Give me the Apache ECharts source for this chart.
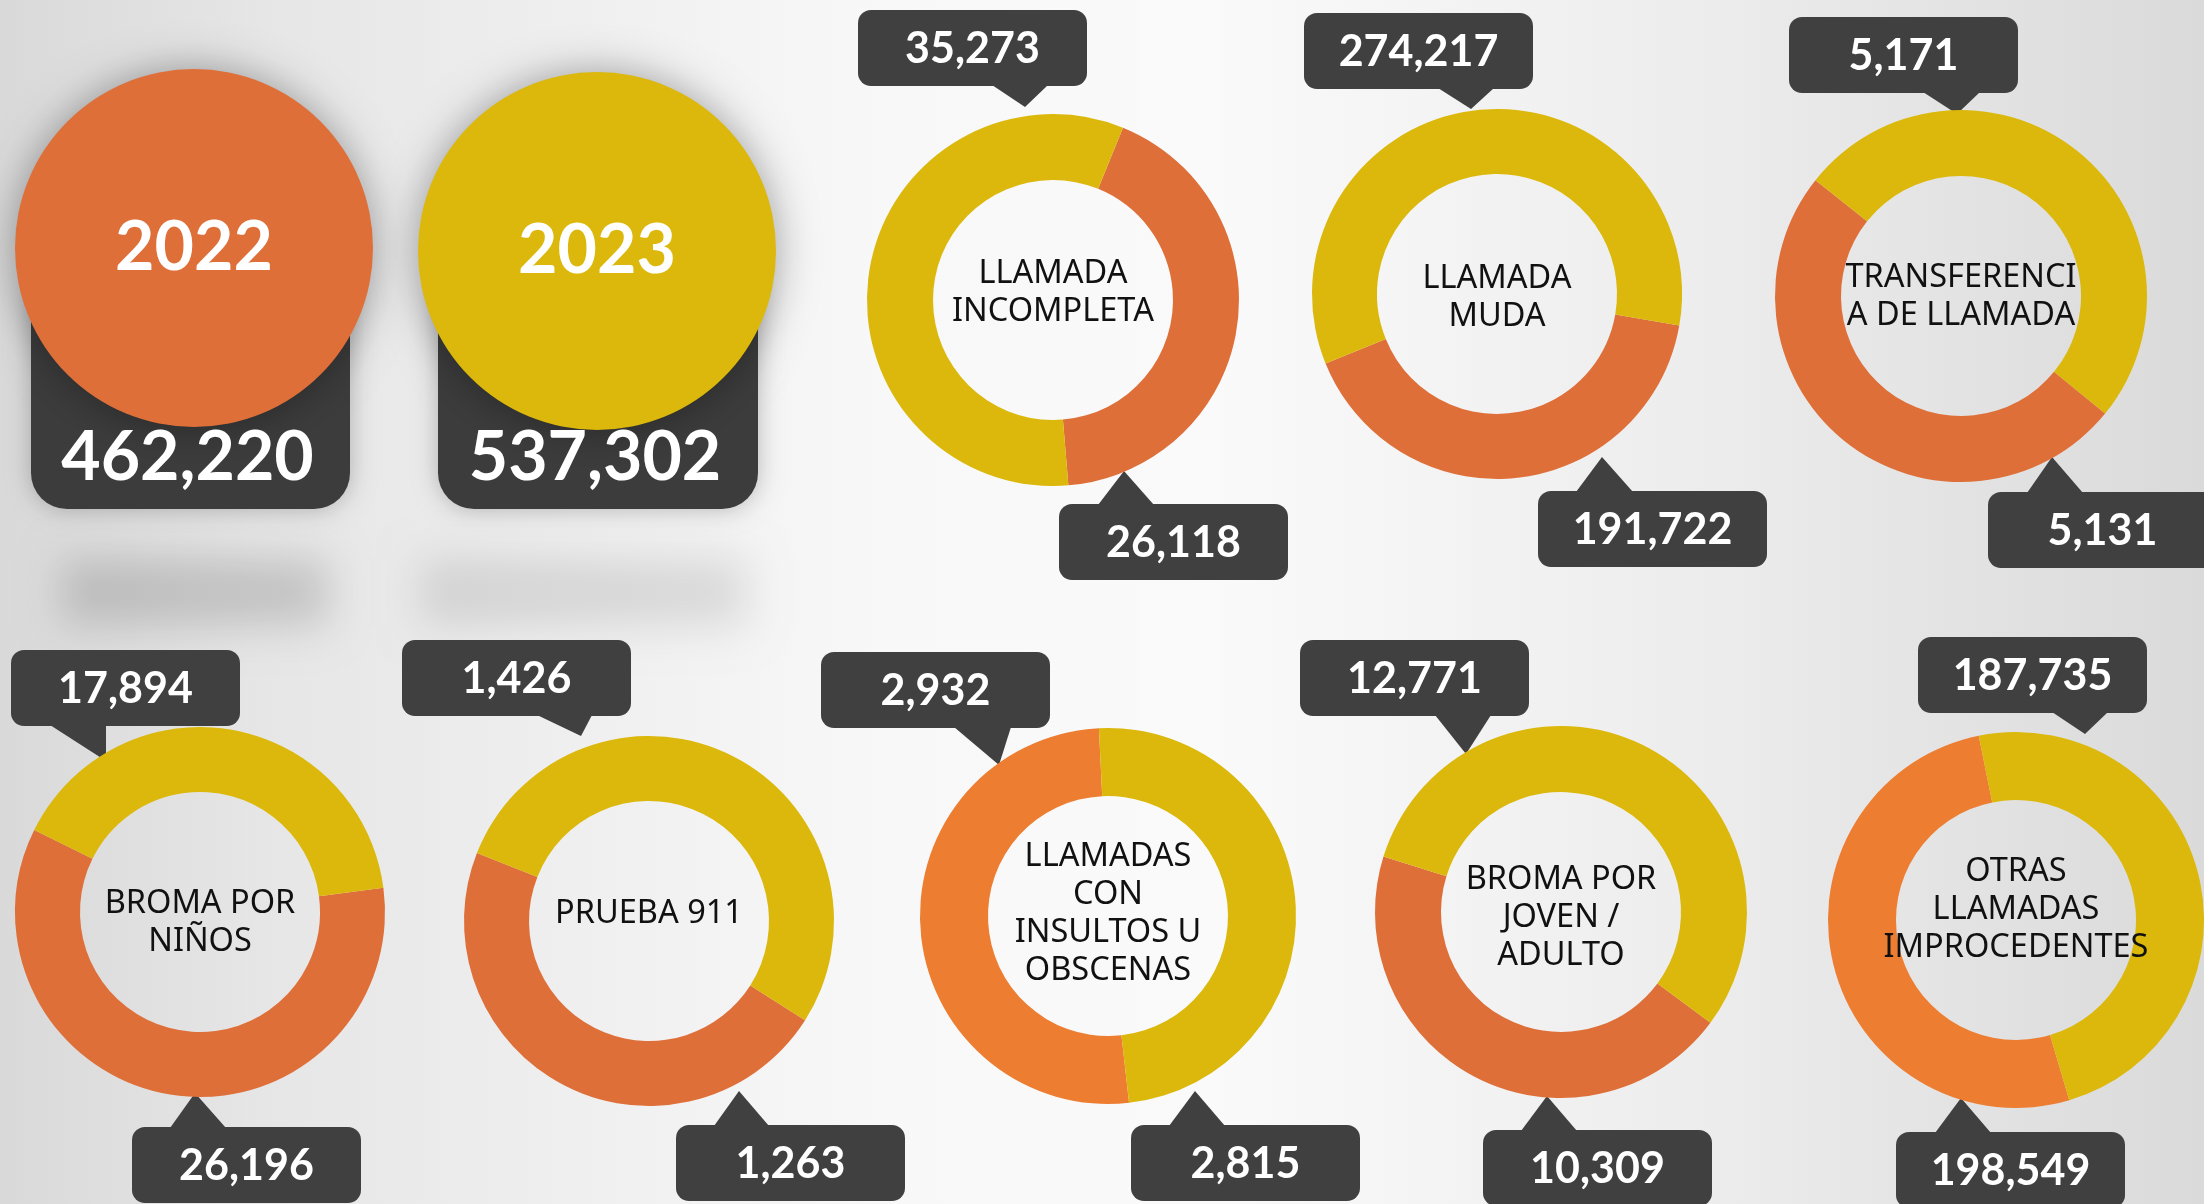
<!DOCTYPE html>
<html>
<head>
<meta charset="utf-8">
<title>Llamadas improcedentes 2022 - 2023</title>
<script src="https://cdn.jsdelivr.net/npm/echarts@6/dist/echarts.min.js"></script>
<style>
  html, body { margin: 0; padding: 0; }
  #chart { width: 2204px; height: 1204px; }
</style>
</head>
<body>
<div id="chart"></div>
<script>
// datos
const years = ['2022', '2023']
const totals = [462220, 537302]
const categories = [
  'LLAMADA\nINCOMPLETA',
  'LLAMADA\nMUDA',
  'TRANSFERENCI\nA DE LLAMADA',
  'BROMA POR\nNIÑOS',
  'PRUEBA 911',
  'LLAMADAS\nCON\nINSULTOS U\nOBSCENAS',
  'BROMA POR\nJOVEN /\nADULTO',
  'OTRAS\nLLAMADAS\nIMPROCEDENTES'
]
const values2022 = [26118, 191722, 5131, 26196, 1263, 2932, 10309, 198549]
const values2023 = [35273, 274217, 5171, 17894, 1426, 2815, 12771, 187735]

// colores
const ORANGE = '#DF6F39'
const ORANGE_LIGHT = '#ED7D31'
const YELLOW = '#DBB80B'
const DARK = '#404040'
const NUM_FONT = 'Lato, "Open Sans", sans-serif'
const TXT_FONT = '"Noto Sans", "DejaVu Sans", sans-serif'

// posiciones de cada dona y de sus cajas
const BOX_W = 229
const BOX_H = 76
const donuts = [
  { center: [1053, 300], radius: 186, startAngle: 67.9, textDy: -7, orange: ORANGE, topYear: 1,
    topBox: { x: 858, y: 10, base: [992, 1048], tip: [1025, 107] },
    bottomBox: { x: 1059, y: 504, base: [1098, 1154], tip: [1124, 471] } },
  { center: [1497, 294], radius: 185, startAngle: -9.8, textDy: 4, orange: ORANGE, topYear: 1,
    topBox: { x: 1304, y: 13, base: [1438, 1494], tip: [1471, 109] },
    bottomBox: { x: 1538, y: 491, base: [1576, 1633], tip: [1602, 457] } },
  { center: [1961, 296], radius: 186, startAngle: -39.2, textDy: 1, orange: ORANGE, topYear: 1,
    topBox: { x: 1789, y: 17, base: [1923, 1980], tip: [1957, 114] },
    bottomBox: { x: 1988, y: 492, base: [2027, 2083], tip: [2052, 457] } },
  { center: [200, 912], radius: 185, startAngle: 7.55, textDy: 11, orange: ORANGE, topYear: 1,
    topBox: { x: 11, y: 650, base: [50, 106], tip: [106, 761] },
    bottomBox: { x: 132, y: 1127, base: [170, 226], tip: [195, 1093] } },
  { center: [649, 921], radius: 185, startAngle: -32.46, textDy: -7, orange: ORANGE, topYear: 1,
    topBox: { x: 402, y: 640, base: [537, 592], tip: [581, 736] },
    bottomBox: { x: 676, y: 1125, base: [714, 769], tip: [739, 1091] } },
  { center: [1108, 916], radius: 188, startAngle: -83.57, textDy: -2, orange: ORANGE_LIGHT, topYear: 0,
    topBox: { x: 821, y: 652, base: [954, 1011], tip: [999, 765] },
    bottomBox: { x: 1131, y: 1125, base: [1169, 1225], tip: [1195, 1091] } },
  { center: [1561, 912], radius: 186, startAngle: -36.55, textDy: 6, orange: ORANGE, topYear: 1,
    topBox: { x: 1300, y: 640, base: [1435, 1491], tip: [1466, 754] },
    bottomBox: { x: 1483, y: 1130, base: [1521, 1577], tip: [1547, 1096] } },
  { center: [2016, 920], radius: 188, startAngle: -73.53, textDy: -10, orange: ORANGE_LIGHT, topYear: 1,
    topBox: { x: 1918, y: 637, base: [2052, 2108], tip: [2085, 734] },
    bottomBox: { x: 1896, y: 1132, base: [1935, 1991], tip: [1961, 1098] } }
]

// circulos grandes de totales
const bigCircles = [
  { center: [194, 248], radius: 179, color: ORANGE, box: { x: 31, y: 290, w: 319, h: 219 } },
  { center: [597, 251], radius: 179, color: YELLOW, box: { x: 438, y: 290, w: 320, h: 219 } }
]

function fmt(v) {
  return v.toLocaleString('en-US')
}

// caja oscura con piquito
function valueBox(b, text, pointsDown) {
  const edgeY = pointsDown ? b.y + BOX_H - 1 : b.y + 1
  return {
    type: 'group',
    z: 50,
    children: [
      {
        type: 'rect',
        shape: { x: b.x, y: b.y, width: BOX_W, height: BOX_H, r: 13 },
        style: { fill: DARK }
      },
      {
        type: 'polygon',
        shape: { points: [[b.base[0], edgeY], [b.base[1], edgeY], b.tip] },
        style: { fill: DARK }
      },
      {
        type: 'text',
        style: {
          text: text,
          x: b.x + BOX_W / 2,
          y: b.y + BOX_H / 2 + 1,
          align: 'center',
          verticalAlign: 'middle',
          fill: '#fff',
          fontSize: 43,
          fontWeight: 'bold',
          fontFamily: NUM_FONT
        }
      }
    ]
  }
}

// sombra difusa (solo se ve la sombra del rect)
function blurBlob(x, y, w, h, blur, color) {
  return {
    type: 'rect',
    z: -50,
    shape: { x: x, y: y - 3000, width: w, height: h },
    style: { fill: '#000', shadowBlur: blur, shadowColor: color, shadowOffsetY: 3000 }
  }
}

const series = []
const graphics = []

graphics.push({
  type: 'rect',
  z: -100,
  shape: { x: 0, y: 0, width: 2204, height: 1204 },
  style: {
    fill: new echarts.graphic.LinearGradient(0, 0, 1, 0, [
      { offset: 0, color: '#d9d9d9' },
      { offset: 0.12, color: '#e6e6e6' },
      { offset: 0.4, color: '#f8f8f8' },
      { offset: 0.55, color: '#fafafa' },
      { offset: 0.78, color: '#ececec' },
      { offset: 1, color: '#dadada' }
    ])
  }
})
graphics.push(blurBlob(62, 558, 266, 68, 40, 'rgba(0,0,0,0.15)'))
graphics.push(blurBlob(420, 558, 326, 68, 40, 'rgba(0,0,0,0.10)'))

bigCircles.forEach(function(c, i) {
  graphics.push({
    type: 'rect',
    z: 1,
    shape: { x: c.box.x, y: c.box.y, width: c.box.w, height: c.box.h, r: [0, 0, 36, 36] },
    style: { fill: '#3c3c3c', shadowBlur: 25, shadowColor: 'rgba(0,0,0,0.25)' }
  })
  graphics.push({
    type: 'text',
    z: 60,
    style: {
      text: fmt(totals[i]),
      x: c.box.x + c.box.w / 2 - 3,
      y: 458,
      align: 'center',
      verticalAlign: 'middle',
      fill: '#fff',
      fontSize: 68,
      fontWeight: 'bold',
      fontFamily: NUM_FONT
    }
  })
  series.push({
    type: 'pie',
    silent: true,
    animation: false,
    center: c.center,
    radius: [0, c.radius],
    z: 5,
    label: {
      show: true,
      position: 'center',
      formatter: '{b}',
      color: '#fff',
      fontSize: 68,
      fontWeight: 'bold',
      fontFamily: NUM_FONT
    },
    labelLine: { show: false },
    itemStyle: { color: c.color, borderWidth: 0, shadowBlur: 40, shadowColor: 'rgba(0,0,0,0.35)' },
    data: [{ name: years[i], value: totals[i] }]
  })
})

donuts.forEach(function(d, i) {
  const vals = [values2022[i], values2023[i]]
  series.push({
    type: 'pie',
    silent: true,
    animation: false,
    center: d.center,
    radius: [120, d.radius],
    startAngle: d.startAngle,
    clockwise: true,
    label: { show: false },
    labelLine: { show: false },
    itemStyle: { borderWidth: 0 },
    data: [
      { name: years[0], value: vals[0], itemStyle: { color: d.orange } },
      { name: years[1], value: vals[1], itemStyle: { color: YELLOW } }
    ]
  })
  graphics.push({
    type: 'text',
    z: 60,
    style: {
      text: categories[i],
      x: d.center[0],
      y: d.center[1] + d.textDy,
      align: 'center',
      verticalAlign: 'middle',
      fill: '#111',
      fontSize: 32.5,
      lineHeight: 38,
      fontFamily: TXT_FONT
    }
  })
  graphics.push(valueBox(d.topBox, fmt(vals[d.topYear]), true))
  graphics.push(valueBox(d.bottomBox, fmt(vals[1 - d.topYear]), false))
})

const chart = echarts.init(document.getElementById('chart'))
chart.setOption({
  animation: false,
  graphic: { elements: graphics },
  series: series
})
window.onresize = function() {
  chart.resize()
}
</script>
</body>
</html>
